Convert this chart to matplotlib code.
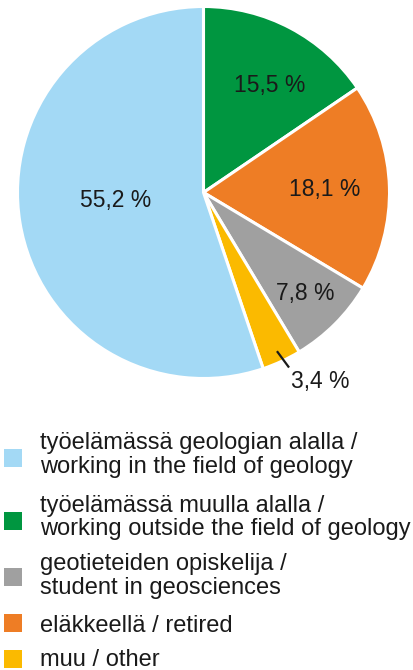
import numpy as np
import matplotlib
matplotlib.use('Agg')
import matplotlib.pyplot as plt
from matplotlib.patches import Rectangle

plt.rcParams['font.family'] = ['Liberation Sans', 'DejaVu Sans']

# data, clockwise from 12 o'clock
slice_values = [15.5, 18.1, 7.8, 3.4, 55.2]
slice_colors = ['#009640', '#ee7d25', '#a0a0a0', '#fbba00', '#a3d9f5']
slice_labels = ['15,5 %', '18,1 %', '7,8 %', '3,4 %', '55,2 %']

# legend, in its own order
legend_labels = ['työelämässä geologian alalla /\nworking in the field of geology',
                 'työelämässä muulla alalla /\nworking outside the field of geology',
                 'geotieteiden opiskelija /\nstudent in geosciences',
                 'eläkkeellä / retired',
                 'muu / other']
legend_colors = ['#a3d9f5', '#009640', '#a0a0a0', '#ee7d25', '#fbba00']

W, H = 414, 670
fig = plt.figure(figsize=(W / 100, H / 100), dpi=100)

# pie axes, centre (203.5, 192.5) px, radius 186 px
cx, cy, r = 203.5, 192.5, 186
ax = fig.add_axes([(cx - r) / W, 1 - (cy + r) / H, 2 * r / W, 2 * r / H])
wedges, _ = ax.pie(slice_values, colors=slice_colors, startangle=90, counterclock=False,
                   wedgeprops=dict(edgecolor='white', linewidth=2.2))
ax.set_xlim(-1, 1)
ax.set_ylim(-1, 1)
ax.set_aspect('equal')
ax.axis('off')
for w in wedges:
    w.set_clip_on(False)

# label placement: distance from centre and angle nudge (deg)
label_dist = [0.675, 0.65, 0.77, None, 0.475]
label_nudge = [-3.9, 0, 0, 0, -3.9]
for w, lab, d, dn in zip(wedges, slice_labels, label_dist, label_nudge):
    mid = np.deg2rad((w.theta1 + w.theta2) / 2 + dn)
    if d is None:
        # small slice: leader line and text outside
        x0, y0 = 0.94 * np.cos(mid), 0.94 * np.sin(mid)
        x1, y1 = x0 + 0.065, y0 - 0.088
        ax.plot([x0, x1], [y0, y1], color='#1a1a1a', lw=1.6, clip_on=False,
                solid_capstyle='butt')
        ax.text(x1 + 0.012, y1 - 0.075, lab, ha='left', va='center',
                fontsize=16.5, color='#1a1a1a')
    else:
        ax.text(d * np.cos(mid), d * np.sin(mid), lab, ha='center', va='center',
                fontsize=16.5, color='#1a1a1a')

# legend drawn by hand
baselines = [[449, 473], [512, 535], [570, 594], [632], [666]]
box_tops = [449, 512, 568, 614, 650]
box = 18
for lab, col, bl, top in zip(legend_labels, legend_colors, baselines, box_tops):
    fig.add_artist(Rectangle((4 / W, 1 - (top + box) / H), box / W, box / H,
                             transform=fig.transFigure, facecolor=col, edgecolor='none'))
    for line, y in zip(lab.split('\n'), bl):
        fig.text(40 / W, 1 - y / H, line, ha='left', va='baseline',
                 fontsize=17, color='#1a1a1a')

fig.savefig('out.png', dpi=100, facecolor='white')
